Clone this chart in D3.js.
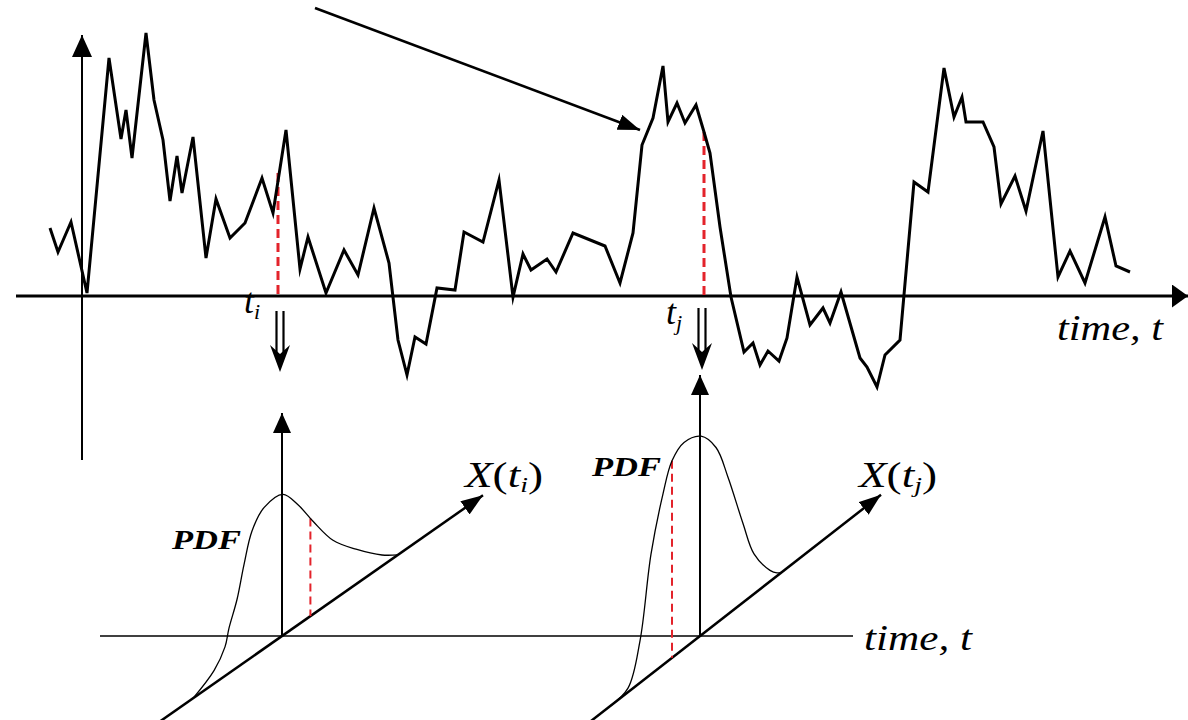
<!DOCTYPE html>
<html>
<head>
<meta charset="utf-8">
<script src="https://cdn.jsdelivr.net/npm/d3@7"></script>
<style>
  body { margin: 0; background: #fff; }
  text { font-family: "Liberation Serif", "Times New Roman", Tinos, "Nimbus Roman", Times, serif; fill: #000; }
</style>
</head>
<body>
<div id="chart"></div>
<script>
// Set dimensions
var width = 1188,
  height = 720;

// sample path of the random process X(t)
var times = [-3.2, -2.4, -1.1, 0.5, 2.7, 3.9, 4.4, 5.0, 6.4, 7.2, 8.1, 8.8, 9.5, 10.0, 11.1, 12.4, 13.4, 14.8, 16.3, 18.0,
  19.1, 20.4, 21.8, 22.6, 24.4, 26.2, 27.6, 29.2, 30.7, 31.6, 32.5, 33.3, 34.4, 35.5, 37.3, 38.2, 40.1, 41.7, 43.1, 44.1,
  44.9, 46.5, 47.4, 49.1, 52.3, 53.8, 55.1, 56.0, 57.1, 58.1, 58.6, 59.5, 60.3, 61.4, 62.2, 62.8, 63.8, 64.9, 66.2, 67.1,
  67.8, 68.6, 69.7, 70.5, 71.5, 72.8, 74.1, 74.8, 75.9, 77.8, 78.5, 79.5, 80.3, 81.8, 83.2, 84.6, 86.2, 87.2, 88.0, 88.4,
  90.1, 91.2, 91.9, 93.3, 94.4, 96.1, 97.6, 98.8, 100.3, 102.3, 103.4, 104.8];
var values = [6.8, 4.4, 7.4, 0.3, 23.8, 15.7, 18.6, 13.8, 26.3, 19.6, 15.6, 9.5, 14.0, 10.3, 15.9, 3.8, 9.7, 5.8, 7.3, 11.8,
  8.3, 16.6, 2.7, 5.9, 0.3, 4.6, 2.1, 8.8, 3.3, -4.4, -7.9, -4.1, -4.8, 0.8, 0.6, 6.4, 5.4, 11.6, -0.1, 4.2,
  2.6, 3.7, 2.4, 6.3, 5.0, 1.3, 6.3, 15.1, 17.8, 23.0, 17.4, 19.3, 17.3, 19.1, 16.4, 14.3, 6.9, -0.1, -5.6, -4.7,
  -6.9, -5.5, -6.5, -4.2, 1.9, -2.9, -1.2, -2.7, 0.4, -6.2, -7.1, -9.1, -5.9, -4.4, 11.4, 10.4, 22.8, 17.9, 19.9, 17.4,
  17.4, 14.9, 9.2, 12.0, 8.5, 16.5, 1.9, 4.5, 1.3, 7.9, 3.0, 2.4];

// the two sampling instants
var ti = 19.6,
  tj = 62.2;

// PDFs of X(ti) and X(tj): value along the X axis, density
var pdfXi = [-8.9, -6.8, -5.7, -5.3, -4.5, -3.8, -3.0, -1.8, 0.1, 1.6, 3.1, 5.1, 7.4, 10.0, 11.6];
var pdfI = [0, 0.13, 0.29, 0.45, 0.68, 0.98, 1.26, 1.41, 1.41, 1.20, 0.93, 0.60, 0.35, 0.11, 0];
var pdfXj = [-9.0, -7.2, -6.0, -4.9, -3.7, -2.8, -1.6, 0.1, 1.6, 2.8, 4.3, 5.4, 7.0, 7.7, 8.2];
var pdfJ = [0, 0.04, 0.42, 1.20, 1.71, 1.97, 2.06, 1.99, 1.76, 1.37, 0.79, 0.40, 0.11, 0.03, 0];

var red = "#e3232b";

// scales for the top plot
var x = d3.scaleLinear().domain([0, 100]).range([82, 1082]);
var y = d3.scaleLinear().domain([0, 25]).range([296, 46]);
var valueAt = d3.scaleLinear().domain(times).range(values);

var svg = d3
  .select("#chart")
  .append("svg")
  .attr("width", width)
  .attr("height", height)
  .style("background", "#fff");

var defs = svg.append("defs");
function addHead(id, len, half) {
  defs
    .append("marker")
    .attr("id", id)
    .attr("markerUnits", "userSpaceOnUse")
    .attr("markerWidth", len)
    .attr("markerHeight", half * 2)
    .attr("viewBox", [0, -half, len, half * 2].join(" "))
    .attr("refX", len)
    .attr("refY", 0)
    .attr("orient", "auto")
    .append("path")
    .attr("d", "M0," + -half + "L" + len + ",0L0," + half + "Z")
    .attr("fill", "#000");
}
addHead("hMain", 16, 11.5);
addHead("hVert", 22, 10);
addHead("hSmall", 20, 9);
addHead("hDiag", 22, 8);

// main axes
svg.append("line")
  .attr("x1", x(-6.6)).attr("x2", x(110.6))
  .attr("y1", y(0)).attr("y2", y(0))
  .attr("stroke", "#000").attr("stroke-width", 3)
  .attr("marker-end", "url(#hMain)");

svg.append("line")
  .attr("x1", x(0)).attr("x2", x(0))
  .attr("y1", y(-16.4)).attr("y2", y(26.1))
  .attr("stroke", "#000").attr("stroke-width", 2)
  .attr("marker-end", "url(#hVert)");

// pointer arrow at the top
svg.append("line")
  .attr("x1", x(23.3)).attr("y1", y(28.8))
  .attr("x2", x(55.8)).attr("y2", y(16.6))
  .attr("stroke", "#000").attr("stroke-width", 2.5)
  .attr("marker-end", "url(#hDiag)");

// red dashed sampling lines
[[ti, 8], [tj, 0]].forEach(function (s) {
  svg.append("line")
    .attr("x1", x(s[0])).attr("x2", x(s[0]))
    .attr("y1", y(valueAt(s[0])) - s[1]).attr("y2", y(0))
    .attr("stroke", red).attr("stroke-width", 3)
    .attr("stroke-dasharray", "9,5");
});

// the process path
var line = d3.line()
  .x(function (d, i) { return x(times[i]); })
  .y(function (d) { return y(d); });

svg.append("path")
  .datum(values)
  .attr("d", line)
  .attr("fill", "none")
  .attr("stroke", "#000")
  .attr("stroke-width", 3)
  .attr("stroke-linejoin", "miter")
  .attr("stroke-miterlimit", 6);

// time labels
svg.append("text")
  .attr("x", 1057).attr("y", 340)
  .attr("font-size", 36).attr("font-style", "italic")
  .attr("textLength", 106).attr("lengthAdjust", "spacingAndGlyphs")
  .text("time, t");

function subLabel(xp, yp, sub) {
  var t = svg.append("text").attr("x", xp).attr("y", yp).attr("font-style", "italic");
  t.append("tspan").attr("font-size", 36).text("t");
  t.append("tspan").attr("font-size", 22).attr("dy", 6).text(sub);
}
subLabel(x(ti) - 34, y(0) + 17, "i");
subLabel(x(tj) - 38, y(0) + 28, "j");

// double arrows below the sampling instants
function doubleArrow(cx, y0, y1) {
  var g = svg.append("g").attr("stroke", "#000").attr("fill", "#000");
  g.append("line").attr("x1", cx - 3.5).attr("x2", cx - 3.5).attr("y1", y0).attr("y2", y1 - 16).attr("stroke-width", 2.2);
  g.append("line").attr("x1", cx + 3.5).attr("x2", cx + 3.5).attr("y1", y0).attr("y2", y1 - 16).attr("stroke-width", 2.2);
  g.append("path")
    .attr("stroke", "none")
    .attr("d", "M" + cx + "," + y1 + "L" + (cx - 10) + "," + (y1 - 27) + "L" + cx + "," + (y1 - 18) +
      "L" + (cx + 10) + "," + (y1 - 27) + "Z");
}
doubleArrow(x(ti) + 2, y(0) + 15, y(0) + 76);
doubleArrow(x(tj) - 2, y(0) + 12, y(0) + 74);

// lower panels: PDFs drawn in perspective
var baseY = 636;
svg.append("line")
  .attr("x1", 100).attr("x2", 853)
  .attr("y1", baseY).attr("y2", baseY)
  .attr("stroke", "#000").attr("stroke-width", 1.5);

svg.append("text")
  .attr("x", 864).attr("y", 650)
  .attr("font-size", 36).attr("font-style", "italic")
  .attr("textLength", 108).attr("lengthAdjust", "spacingAndGlyphs")
  .text("time, t");

var pu = d3.scaleLinear().domain([0, 10]).range([0, 100]);
var pd = d3.scaleLinear().domain([0, 1]).range([0, 100]);

var panels = [
  { xs: pdfXi, ds: pdfI, ox: 282, k: 0.7, top: 413, from: -12.4, to: 20.1, dash: 2.84, sub: "i",
    pdfLab: [172, 549], xLab: [465, 487] },
  { xs: pdfXj, ds: pdfJ, ox: 700, k: 0.78, top: 375, from: -11.4, to: 18.1, dash: -2.8, sub: "j",
    pdfLab: [592, 476], xLab: [859, 487] }
];

panels.forEach(function (p) {
  var px = function (u) { return p.ox + pu(u); };
  var py = function (u, d) { return baseY - p.k * pu(u) - pd(d); };
  var dens = d3.scaleLinear().domain(p.xs).range(p.ds);

  // PDF axis
  svg.append("line")
    .attr("x1", p.ox).attr("x2", p.ox)
    .attr("y1", baseY).attr("y2", p.top)
    .attr("stroke", "#000").attr("stroke-width", 2)
    .attr("marker-end", "url(#hSmall)");

  // X(t) axis in perspective
  svg.append("line")
    .attr("x1", px(p.from)).attr("y1", py(p.from, 0))
    .attr("x2", px(p.to)).attr("y2", py(p.to, 0))
    .attr("stroke", "#000").attr("stroke-width", 2.5)
    .attr("marker-end", "url(#hDiag)");

  // dashed value line
  svg.append("line")
    .attr("x1", px(p.dash)).attr("x2", px(p.dash))
    .attr("y1", py(p.dash, dens(p.dash))).attr("y2", py(p.dash, 0))
    .attr("stroke", red).attr("stroke-width", 2)
    .attr("stroke-dasharray", "8,5");

  // density curve
  var curve = d3.line()
    .x(function (d, i) { return px(p.xs[i]); })
    .y(function (d, i) { return py(p.xs[i], d); })
    .curve(d3.curveCatmullRom);
  svg.append("path")
    .datum(p.ds)
    .attr("d", curve)
    .attr("fill", "none")
    .attr("stroke", "#000")
    .attr("stroke-width", 1.3);

  svg.append("text")
    .attr("x", p.pdfLab[0]).attr("y", p.pdfLab[1])
    .attr("font-size", 28).attr("font-style", "italic").attr("font-weight", "bold")
    .attr("textLength", 69).attr("lengthAdjust", "spacingAndGlyphs")
    .text("PDF");

  var xl = svg.append("text")
    .attr("x", p.xLab[0]).attr("y", p.xLab[1])
    .attr("font-size", 36)
    .attr("textLength", 78).attr("lengthAdjust", "spacingAndGlyphs");
  xl.append("tspan").attr("font-style", "italic").text("X");
  xl.append("tspan").text("(");
  xl.append("tspan").attr("font-style", "italic").text("t");
  xl.append("tspan").attr("font-style", "italic").attr("font-size", 22).attr("dy", 5).text(p.sub);
  xl.append("tspan").attr("dy", -5).text(")");
});
</script>
</body>
</html>
